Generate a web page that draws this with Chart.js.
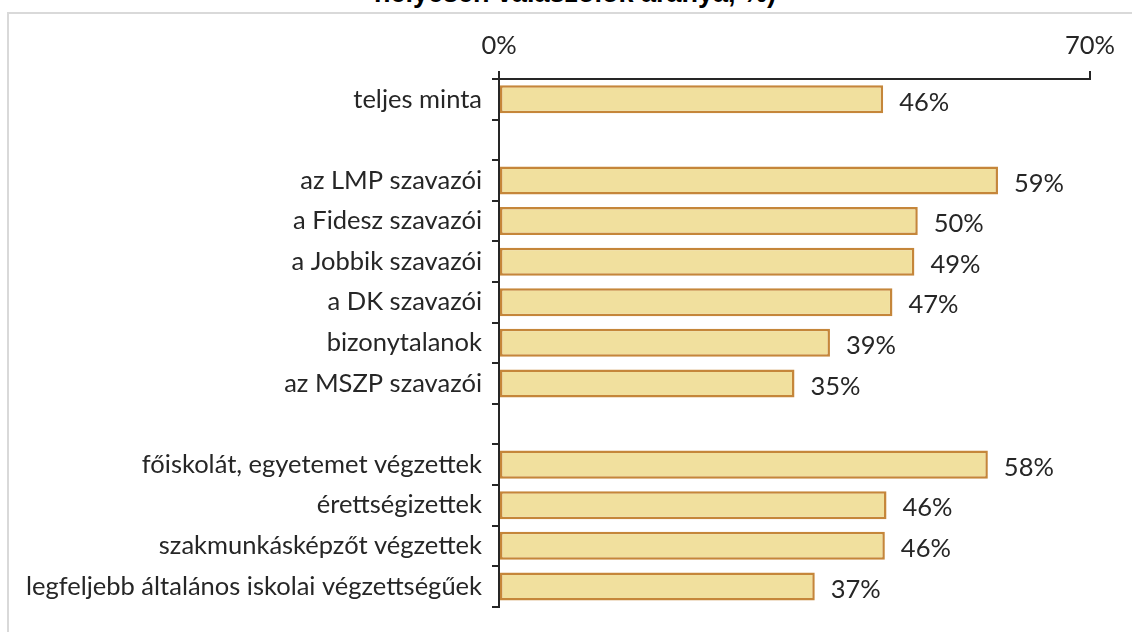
<!DOCTYPE html>
<html>
<head>
<meta charset="utf-8">
<script src="https://cdn.jsdelivr.net/npm/chart.js@4.4.1/dist/chart.umd.min.js"></script>
<style>
  body { margin: 0; background: #fff; overflow: hidden; }
  #wrap { position: relative; width: 1132px; height: 632px; }
  #title { position: absolute; left: 0; width: 1150px; top: -22px; line-height: 30px; text-align: center;
           font: bold 27px "Liberation Sans", Arial, sans-serif; color: #000; white-space: nowrap; }
  #box { position: absolute; left: 7px; top: 12px; width: 1200px; height: 700px;
         border-left: 2px solid #d9d9d9; border-top: 2px solid #d9d9d9; }
  canvas { position: absolute; left: 0; top: 0; }
</style>
</head>
<body>
<div id="wrap">
  <div id="title">helyesen válaszolók aránya, %)</div>
  <div id="box"></div>
  <canvas id="bar-chart" width="1132" height="632"></canvas>
</div>
<script>
// categories (empty strings are the gaps between groups)
var categories = ["teljes minta", "", "az LMP szavazói", "a Fidesz szavazói", "a Jobbik szavazói",
  "a DK szavazói", "bizonytalanok", "az MSZP szavazói", "", "főiskolát, egyetemet végzettek",
  "érettségizettek", "szakmunkásképzőt végzettek", "legfeljebb általános iskolai végzettségűek"]
var values = [45.5, null, 59.1, 49.6, 49.2, 46.6, 39.2, 35.0, null, 57.9, 45.9, 45.7, 37.4]
var axisTicks = [0, 70]

var textColor = "#262626"
var fontFamily = "Lato, 'Open Sans', sans-serif"
var fontSize = 25.5

var valueLabels = {
  id: "valueLabels",
  afterDatasetsDraw: function (chart) {
    var ctx = chart.ctx
    var meta = chart.getDatasetMeta(0)
    ctx.save()
    ctx.font = fontSize + "px " + fontFamily
    ctx.fillStyle = textColor
    ctx.textAlign = "left"
    ctx.textBaseline = "middle"
    meta.data.forEach(function (bar, i) {
      if (values[i] === null) return
      ctx.fillText(Math.round(values[i]) + "%", bar.x + 16, bar.y + 3)
    })
    ctx.restore()
  }
}

new Chart(document.getElementById("bar-chart"), {
  type: "bar",
  data: {
    labels: categories,
    datasets: [{
      data: values,
      backgroundColor: "#f1e09e",
      borderColor: "#c5863a",
      borderWidth: 2.5,
      borderSkipped: false,
      barPercentage: 0.69,
      categoryPercentage: 1
    }]
  },
  options: {
    indexAxis: "y",
    responsive: false,
    animation: false,
    layout: { padding: { left: 0, right: 42, top: 0, bottom: 23 } },
    plugins: { legend: { display: false }, tooltip: { enabled: false }, title: { display: false } },
    scales: {
      x: {
        position: "top",
        min: 0, max: 70,
        afterBuildTicks: function (scale) {
          scale.ticks = axisTicks.map(function (v) { return { value: v } })
        },
        afterFit: function (scale) { scale.height = 79 },
        border: { color: textColor, width: 2 },
        grid: { drawOnChartArea: false, tickLength: 8, color: textColor, lineWidth: 2 },
        ticks: {
          color: textColor,
          font: { family: fontFamily, size: fontSize },
          padding: 10,
          maxRotation: 0,
          callback: function (v) { return v + "%" }
        }
      },
      y: {
        afterFit: function (scale) { scale.width = 499 },
        border: { color: textColor, width: 2 },
        grid: { drawOnChartArea: false, offset: true, tickLength: 7, color: textColor, lineWidth: 2 },
        ticks: {
          color: textColor,
          font: { family: fontFamily, size: fontSize },
          padding: 10,
          autoSkip: false
        }
      }
    }
  },
  plugins: [valueLabels]
})
</script>
</body>
</html>
